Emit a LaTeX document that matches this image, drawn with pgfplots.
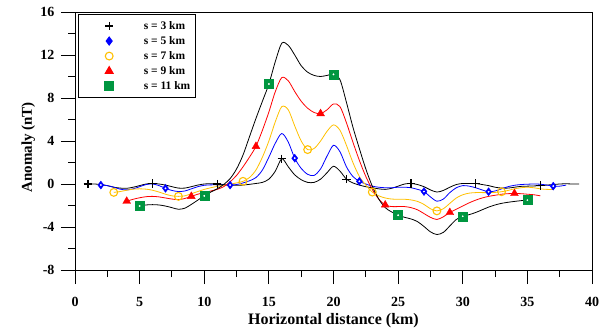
\documentclass[border=0pt]{standalone}
\usepackage{fontspec}
\setmainfont{Liberation Serif}
\usepackage{pgfplots}
\pgfplotsset{compat=1.18}
\definecolor{cblue}{RGB}{0,0,255}
\definecolor{cyel}{RGB}{255,192,0}
\definecolor{cred}{RGB}{255,0,0}
\definecolor{cgreen}{RGB}{0,150,64}
\pgfplotsset{myleg/.style={legend image code/.code={\path (0pt,-4pt) (59pt,4pt); \draw[##1] plot coordinates {(27pt,0pt)};}}}
\begin{document}
\begin{tikzpicture}
\begin{axis}[
  name=ax,
  scale only axis, width=517pt, height=258pt,
  xmin=0, xmax=40, ymin=-8, ymax=16,
  xtick={0,5,...,40}, ytick={-8,-4,0,4,8,12,16},
  yticklabels={-8,-4,0,4,8,12,16},
  xticklabels={0,5,10,15,20,25,30,35,40},
  minor x tick num=1, minor y tick num=1,
  tick align=outside, tick pos=left,
  major tick length=14pt, minor tick length=7pt,
  every tick/.style={black, line width=0.9pt},
  axis line style={line width=0.9pt},
  ticklabel style={font=\bfseries\fontsize{14}{14}\selectfont},
  xticklabel style={yshift=-10pt},
  yticklabel style={xshift=-3pt},
  xlabel={Horizontal distance (km)},
  ylabel={Anomaly (nT)},
  xlabel style={font=\bfseries\fontsize{16}{16}\selectfont, at={(axis description cs:0.5,0)}, anchor=base, yshift=-54pt},
  ylabel style={font=\bfseries\fontsize{15}{15}\selectfont, at={(axis description cs:0,0.475)}, anchor=base, yshift=43pt},
  legend cell align=left,
  legend style={at={(axis description cs:0.006,0.992)}, anchor=north west,
    draw=black, line width=1pt, inner xsep=3pt, inner ysep=4pt, row sep=0pt,
    font=\bfseries\fontsize{11.5}{11.5}\selectfont,
    nodes={text height=8pt, text depth=2pt, inner ysep=2.5pt}},
]
% ---------- curves ----------
\addplot[black, line width=0.8pt, smooth, forget plot] table {
1 0.0
1.5 0.0
2 -0.05
2.5 -0.15
3 -0.3
3.5 -0.38
4 -0.4
4.5 -0.3
5 -0.15
5.5 0.0
6 0.05
6.5 0.0
7 -0.1
7.5 -0.25
8 -0.38
8.5 -0.38
9 -0.25
9.5 -0.1
10 0.0
10.5 0.03
11 0.0
11.5 -0.05
12 -0.1
12.5 -0.12
13 -0.1
13.5 -0.03
14 0.05
14.5 0.15
15 0.45
15.5 1.2
16 2.35
16.5 1.6
17 0.85
17.5 0.4
18 0.15
18.5 0.15
19 0.45
19.5 1.05
20 1.65
20.5 1.2
21 0.45
21.5 0.1
22 -0.1
22.5 -0.25
23 -0.35
23.5 -0.45
24 -0.5
24.5 -0.4
25 -0.2
25.5 0.0
26 0.05
26.5 -0.05
27 -0.25
27.5 -0.55
28 -0.75
28.5 -0.6
29 -0.3
29.5 -0.05
30 0.05
30.5 0.05
31 0.05
31.5 -0.05
32 -0.15
32.5 -0.3
33 -0.38
33.5 -0.38
34 -0.3
34.5 -0.22
35 -0.2
35.5 -0.18
36 -0.15
36.5 -0.1
37 -0.05
37.5 0.0
38 0.02
38.5 0.0
39 0.0
};
\addplot[cblue, line width=0.8pt, smooth, forget plot] table {
2 -0.1
2.5 -0.15
3 -0.3
3.5 -0.48
4 -0.55
4.5 -0.45
5 -0.25
5.5 -0.05
6 0.0
6.5 -0.15
7 -0.4
7.5 -0.6
8 -0.7
8.5 -0.65
9 -0.45
9.5 -0.25
10 -0.12
10.5 -0.08
11 -0.08
11.5 -0.1
12 -0.1
12.5 -0.05
13 0.1
13.5 0.3
14 0.6
14.5 1.3
15 2.5
15.5 3.8
16 4.7
16.5 3.9
17 2.4
17.5 1.45
18 0.9
18.5 0.8
19 1.4
19.5 2.6
20 3.6
20.5 3.0
21 1.6
21.5 0.7
22 0.25
22.5 0.0
23 -0.2
23.5 -0.3
24 -0.35
24.5 -0.35
25 -0.3
25.5 -0.3
26 -0.35
26.5 -0.5
27 -0.7
27.5 -1.2
28 -1.6
28.5 -1.4
29 -0.8
29.5 -0.35
30 -0.15
30.5 -0.2
31 -0.35
31.5 -0.55
32 -0.72
32.5 -0.65
33 -0.45
33.5 -0.25
34 -0.12
34.5 -0.05
35 -0.02
35.5 0.0
36 -0.02
36.5 -0.1
37 -0.2
37.5 -0.2
38 -0.1
};
\addplot[cyel, line width=0.8pt, smooth, forget plot] table {
3 -0.78
3.5 -0.7
4 -0.58
4.5 -0.48
5 -0.45
5.5 -0.48
6 -0.58
6.5 -0.75
7 -0.95
7.5 -1.1
8 -1.15
8.5 -1.1
9 -0.9
9.5 -0.7
10 -0.5
10.5 -0.35
11 -0.22
11.5 -0.12
12 -0.02
12.5 0.1
13 0.25
13.5 0.6
14 1.3
14.5 2.5
15 4.0
15.5 5.8
16 7.2
16.5 6.9
17 5.4
17.5 4.0
18 3.2
18.5 3.3
19 4.0
19.5 4.9
20 5.5
20.5 5.0
21 3.6
21.5 2.0
22 0.7
22.5 -0.1
23 -0.75
23.5 -1.1
24 -1.3
24.5 -1.4
25 -1.42
25.5 -1.42
26 -1.48
26.5 -1.62
27 -1.9
27.5 -2.3
28 -2.5
28.5 -2.3
29 -1.8
29.5 -1.3
30 -1.0
30.5 -0.85
31 -0.8
31.5 -0.8
32 -0.8
32.5 -0.78
33 -0.72
33.5 -0.6
34 -0.45
34.5 -0.35
35 -0.3
35.5 -0.35
36 -0.45
36.5 -0.5
37 -0.5
};
\addplot[cred, line width=0.8pt, smooth, forget plot] table {
4 -1.6
4.5 -1.42
5 -1.28
5.5 -1.18
6 -1.15
6.5 -1.2
7 -1.3
7.5 -1.4
8 -1.45
8.5 -1.35
9 -1.15
9.5 -0.95
10 -0.8
10.5 -0.65
11 -0.5
11.5 -0.25
12 0.2
12.5 0.8
13 1.6
13.5 2.5
14 3.5
14.5 5.0
15 6.7
15.5 8.6
16 9.9
16.5 9.6
17 8.6
17.5 7.7
18 7.05
18.5 6.65
19 6.55
19.5 6.9
20 7.45
20.5 7.2
21 5.7
21.5 3.9
22 2.2
22.5 0.7
23 -0.5
23.5 -1.4
24 -1.95
24.5 -2.1
25 -2.1
25.5 -2.1
26 -2.2
26.5 -2.4
27 -2.75
27.5 -3.1
28 -3.3
28.5 -3.05
29 -2.65
29.5 -2.35
30 -2.05
30.5 -1.75
31 -1.5
31.5 -1.3
32 -1.15
32.5 -1.05
33 -0.95
33.5 -0.9
34 -0.88
34.5 -0.9
35 -0.95
35.5 -1.0
36 -1.1
};
\addplot[black, line width=0.8pt, smooth, forget plot] table {
5 -2.05
5.5 -1.95
6 -1.92
6.5 -1.95
7 -2.05
7.5 -2.2
8 -2.35
8.5 -2.25
9 -1.9
9.5 -1.5
10 -1.1
10.5 -0.75
11 -0.45
11.5 -0.05
12 0.5
12.5 1.4
13 2.7
13.5 4.4
14 6.1
14.5 7.7
15 9.3
15.5 11.4
16 13.1
16.5 12.9
17 12.0
17.5 11.0
18 10.4
18.5 10.1
19 10.0
19.5 10.1
20 10.2
20.5 9.7
21 7.6
21.5 5.3
22 3.3
22.5 1.4
23 -0.2
23.5 -1.4
24 -2.2
24.5 -2.6
25 -2.9
25.5 -3.1
26 -3.25
26.5 -3.5
27 -3.95
27.5 -4.45
28 -4.7
28.5 -4.5
29 -3.9
29.5 -3.3
30 -3.0
30.5 -2.85
31 -2.65
31.5 -2.4
32 -2.15
32.5 -1.95
33 -1.8
33.5 -1.7
34 -1.62
34.5 -1.55
35 -1.5
};
% ---------- markers ----------
\addplot[only marks, mark=+, mark size=4.2pt, black, line width=1.2pt, myleg] table {
1 0.0
6 0.05
11 0.0
16 2.35
21 0.45
26 0.05
31 0.05
36 -0.15
};
\addlegendentry{s = 3 km}
\addplot[only marks, mark=diamond*, mark size=4pt, cblue, fill=cblue, myleg] table {
2 -0.1
7 -0.4
12 -0.1
17 2.4
22 0.25
27 -0.7
32 -0.72
37 -0.2
};
\addlegendentry{s = 5 km}
\addplot[only marks, mark=o, mark size=3.9pt, cyel, line width=1.1pt, myleg] table {
3 -0.78
8 -1.15
13 0.25
18 3.2
23 -0.75
28 -2.5
33 -0.72
};
\addlegendentry{s = 7 km}
\addplot[only marks, mark=triangle*, mark size=4.5pt, cred, fill=cred, myleg] table {
4 -1.6
9 -1.15
14 3.5
19 6.55
24 -1.95
29 -2.65
34 -0.88
};
\addlegendentry{s = 9 km}
\addplot[only marks, mark=square*, mark size=4.5pt, cgreen, fill=cgreen, myleg] table {
5 -2.05
10 -1.1
15 9.3
20 10.2
25 -2.9
30 -3.0
35 -1.5
};
\addlegendentry{s = 11 km}
\addplot[only marks, mark=*, mark size=0.7pt, white, forget plot] table {
5 -2.05
10 -1.1
15 9.3
20 10.2
25 -2.9
30 -3.0
35 -1.5
2 -0.1
7 -0.4
12 -0.1
17 2.4
22 0.25
27 -0.7
32 -0.72
37 -0.2
};
\end{axis}
\pgfresetboundingbox
\path ([shift={(-75pt,-59pt)}]ax.south west) rectangle ([shift={(14pt,12pt)}]ax.north east);
\end{tikzpicture}
\end{document}
